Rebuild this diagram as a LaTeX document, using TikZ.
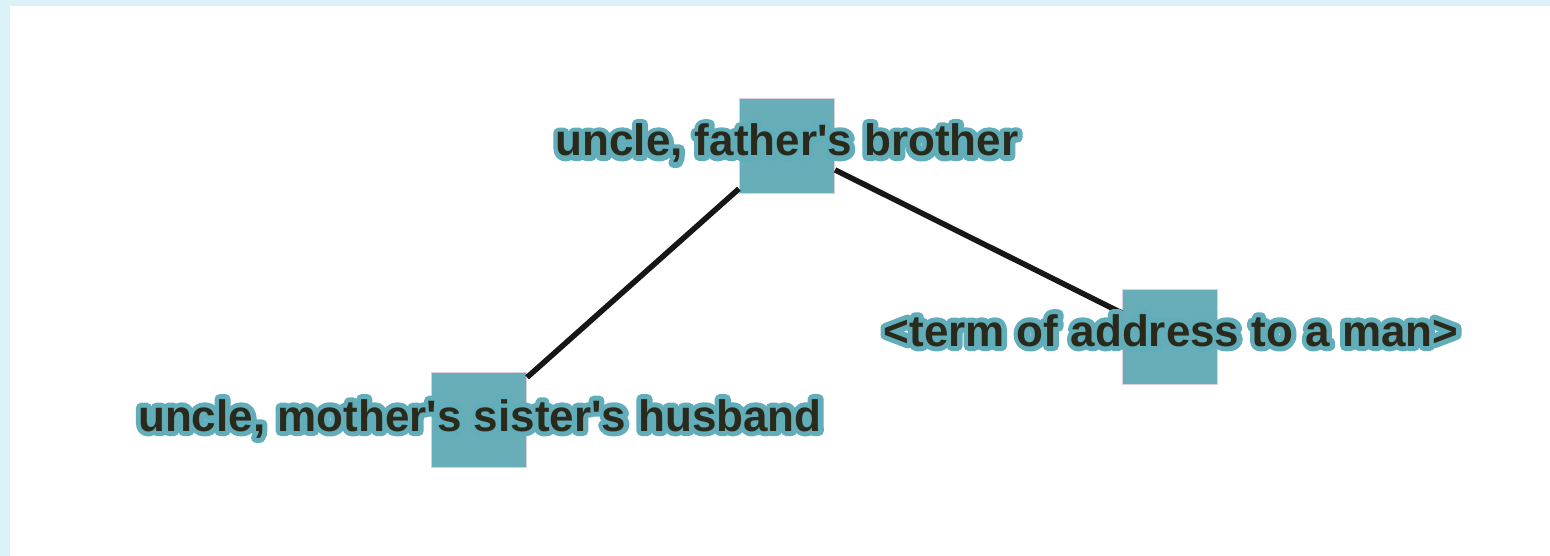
\documentclass[tikz,border=0pt]{standalone}
\usepackage{fontspec}
\setmainfont{Liberation Sans}
\definecolor{bgcyan}{HTML}{DBF3F7}
\definecolor{sqteal}{HTML}{67AEB9}
\definecolor{sqedge}{HTML}{DCCFE0}
\definecolor{txt}{HTML}{2A2A1C}
\definecolor{edgeblack}{HTML}{161616}
\newcommand{\halotext}[1]{\special{pdf:literal direct 1 Tr 10 w 1 j 1 J 0.38 0.68 0.73 RG}#1\special{pdf:literal direct 0 Tr}}
\newcommand{\sq}{\textquotesingle}
\tikzset{
  sq/.style={rectangle, minimum size=95pt, inner sep=0pt, fill=sqteal, draw=sqedge, line width=1.2pt},
  conn/.style={draw=edgeblack, line width=5.5pt},
  lbl/.style={anchor=base, inner sep=0pt, text=txt, font=\fontsize{44}{50}\selectfont\bfseries},
  halolbl/.style={lbl, text=sqteal}
}
\begin{document}
\begin{tikzpicture}[x=1pt,y=-1pt]
\useasboundingbox (0,0) rectangle (1550,556);
\fill[bgcyan] (0,0) rectangle (1550,556);
\fill[white] (10,6) rectangle (1550,556);
\node[sq] (a) at (787,146) {};
\node[sq] (b) at (479,420) {};
\node[sq] (c) at (1170,337) {};
\draw[conn] (a) -- (b);
\draw[conn] (a) -- (c);
\node[halolbl] (ha) at (787,156) {\halotext{uncle, father\sq s brother}};
\node[lbl] (la) at (787,156) {uncle, father\sq s brother};
\node[halolbl] (hb) at (480,431) {\halotext{uncle, mother\sq s sister\sq s husband}};
\node[lbl] (lb) at (480,431) {uncle, mother\sq s sister\sq s husband};
\node[halolbl] (hc) at (1171,346) {\halotext{<term of address to a man>}};
\node[lbl] (lc) at (1171,346) {<term of address to a man>};
\end{tikzpicture}
\end{document}
